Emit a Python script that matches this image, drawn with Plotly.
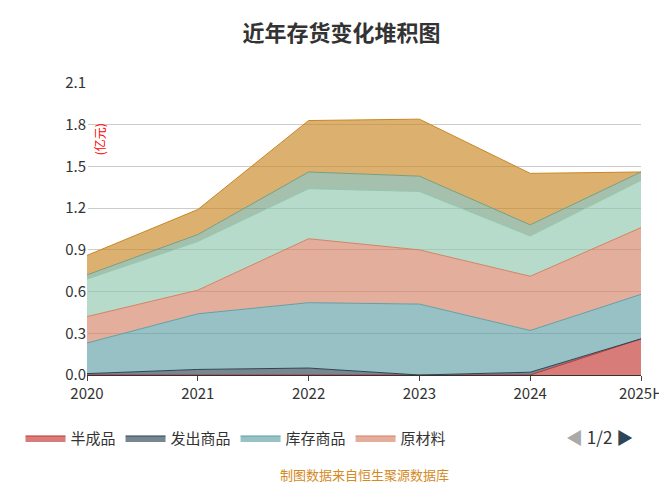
import plotly.graph_objects as go

years = ["2020", "2021", "2022", "2023", "2024", "2025H"]
names = ["半成品", "发出商品", "库存商品", "原材料", "在产品", "周转材料", "委托加工物资"]
colors = ["#c23531", "#2f4554", "#61a0a8", "#d48265", "#91c7ae", "#749f83", "#ca8622"]
s_bcp = [0, 0, 0, 0, 0, 0.26]
s_fc = [0.01, 0.04, 0.05, 0.0, 0.02, 0.0]
s_kc = [0.22, 0.40, 0.47, 0.51, 0.30, 0.32]
s_ycl = [0.19, 0.17, 0.46, 0.39, 0.39, 0.48]
s_zcp = [0.27, 0.35, 0.36, 0.42, 0.29, 0.34]
s_zz = [0.03, 0.05, 0.12, 0.11, 0.08, 0.06]
s_wt = [0.14, 0.18, 0.37, 0.41, 0.37, 0.0]
series = [s_bcp, s_fc, s_kc, s_ycl, s_zcp, s_zz, s_wt]

def rgba(h, a):
    h = h.lstrip("#")
    return f"rgba({int(h[0:2],16)},{int(h[2:4],16)},{int(h[4:6],16)},{a})"

fig = go.Figure()
x = list(range(len(years)))
for i, (n, c, v) in enumerate(zip(names, colors, series)):
    fig.add_trace(go.Scatter(
        x=x, y=v, name=n, stackgroup="one", mode="lines",
        line=dict(color=c, width=1), fillcolor=rgba(c, 0.65),
        showlegend=(i < 4), legendrank=i))

fig.update_layout(
    width=667, height=500, plot_bgcolor="white", paper_bgcolor="white",
    margin=dict(l=62, r=27, t=75, b=133),
    title=dict(text="<b>近年存货变化堆积图</b>", x=0.5, y=0.965, xanchor="center",
               font=dict(size=22, color="#333", family="Noto Sans CJK SC")),
    font=dict(family="Noto Sans CJK SC", color="#333"),
    xaxis=dict(tickmode="array", tickvals=x, ticktext=years, range=[0, 5],
               showgrid=False, showline=True, linecolor="#333", ticks="outside",
               tickfont=dict(size=15)),
    yaxis=dict(range=[0, 2.1], dtick=0.3, tickformat=".1f", showgrid=True,
               gridcolor="#ccc", zeroline=False, showline=False, tickfont=dict(size=15)),
    legend=dict(orientation="h", x=-0.12, y=-0.16, xanchor="left", yanchor="top",
                font=dict(size=15), itemwidth=40, traceorder="normal"),
    annotations=[
        dict(text="(亿元)", x=0.005, y=0.87, xref="paper", yref="paper", textangle=-90,
             showarrow=False, font=dict(size=12, color="red")),
        dict(text="<span style='color:#aaa'>◀</span> 1/2 <span style='color:#2f4554'>▶</span>",
             x=0.99, y=-0.16, xref="paper", yref="paper", xanchor="right", yanchor="top",
             showarrow=False, font=dict(size=17, color="#333")),
        dict(text="制图数据来自恒生聚源数据库", x=0.5, y=-0.3, xref="paper", yref="paper",
             xanchor="center", yanchor="top", showarrow=False,
             font=dict(size=13, color="#d38a1e")),
    ],
)
fig.write_html("out.html")
